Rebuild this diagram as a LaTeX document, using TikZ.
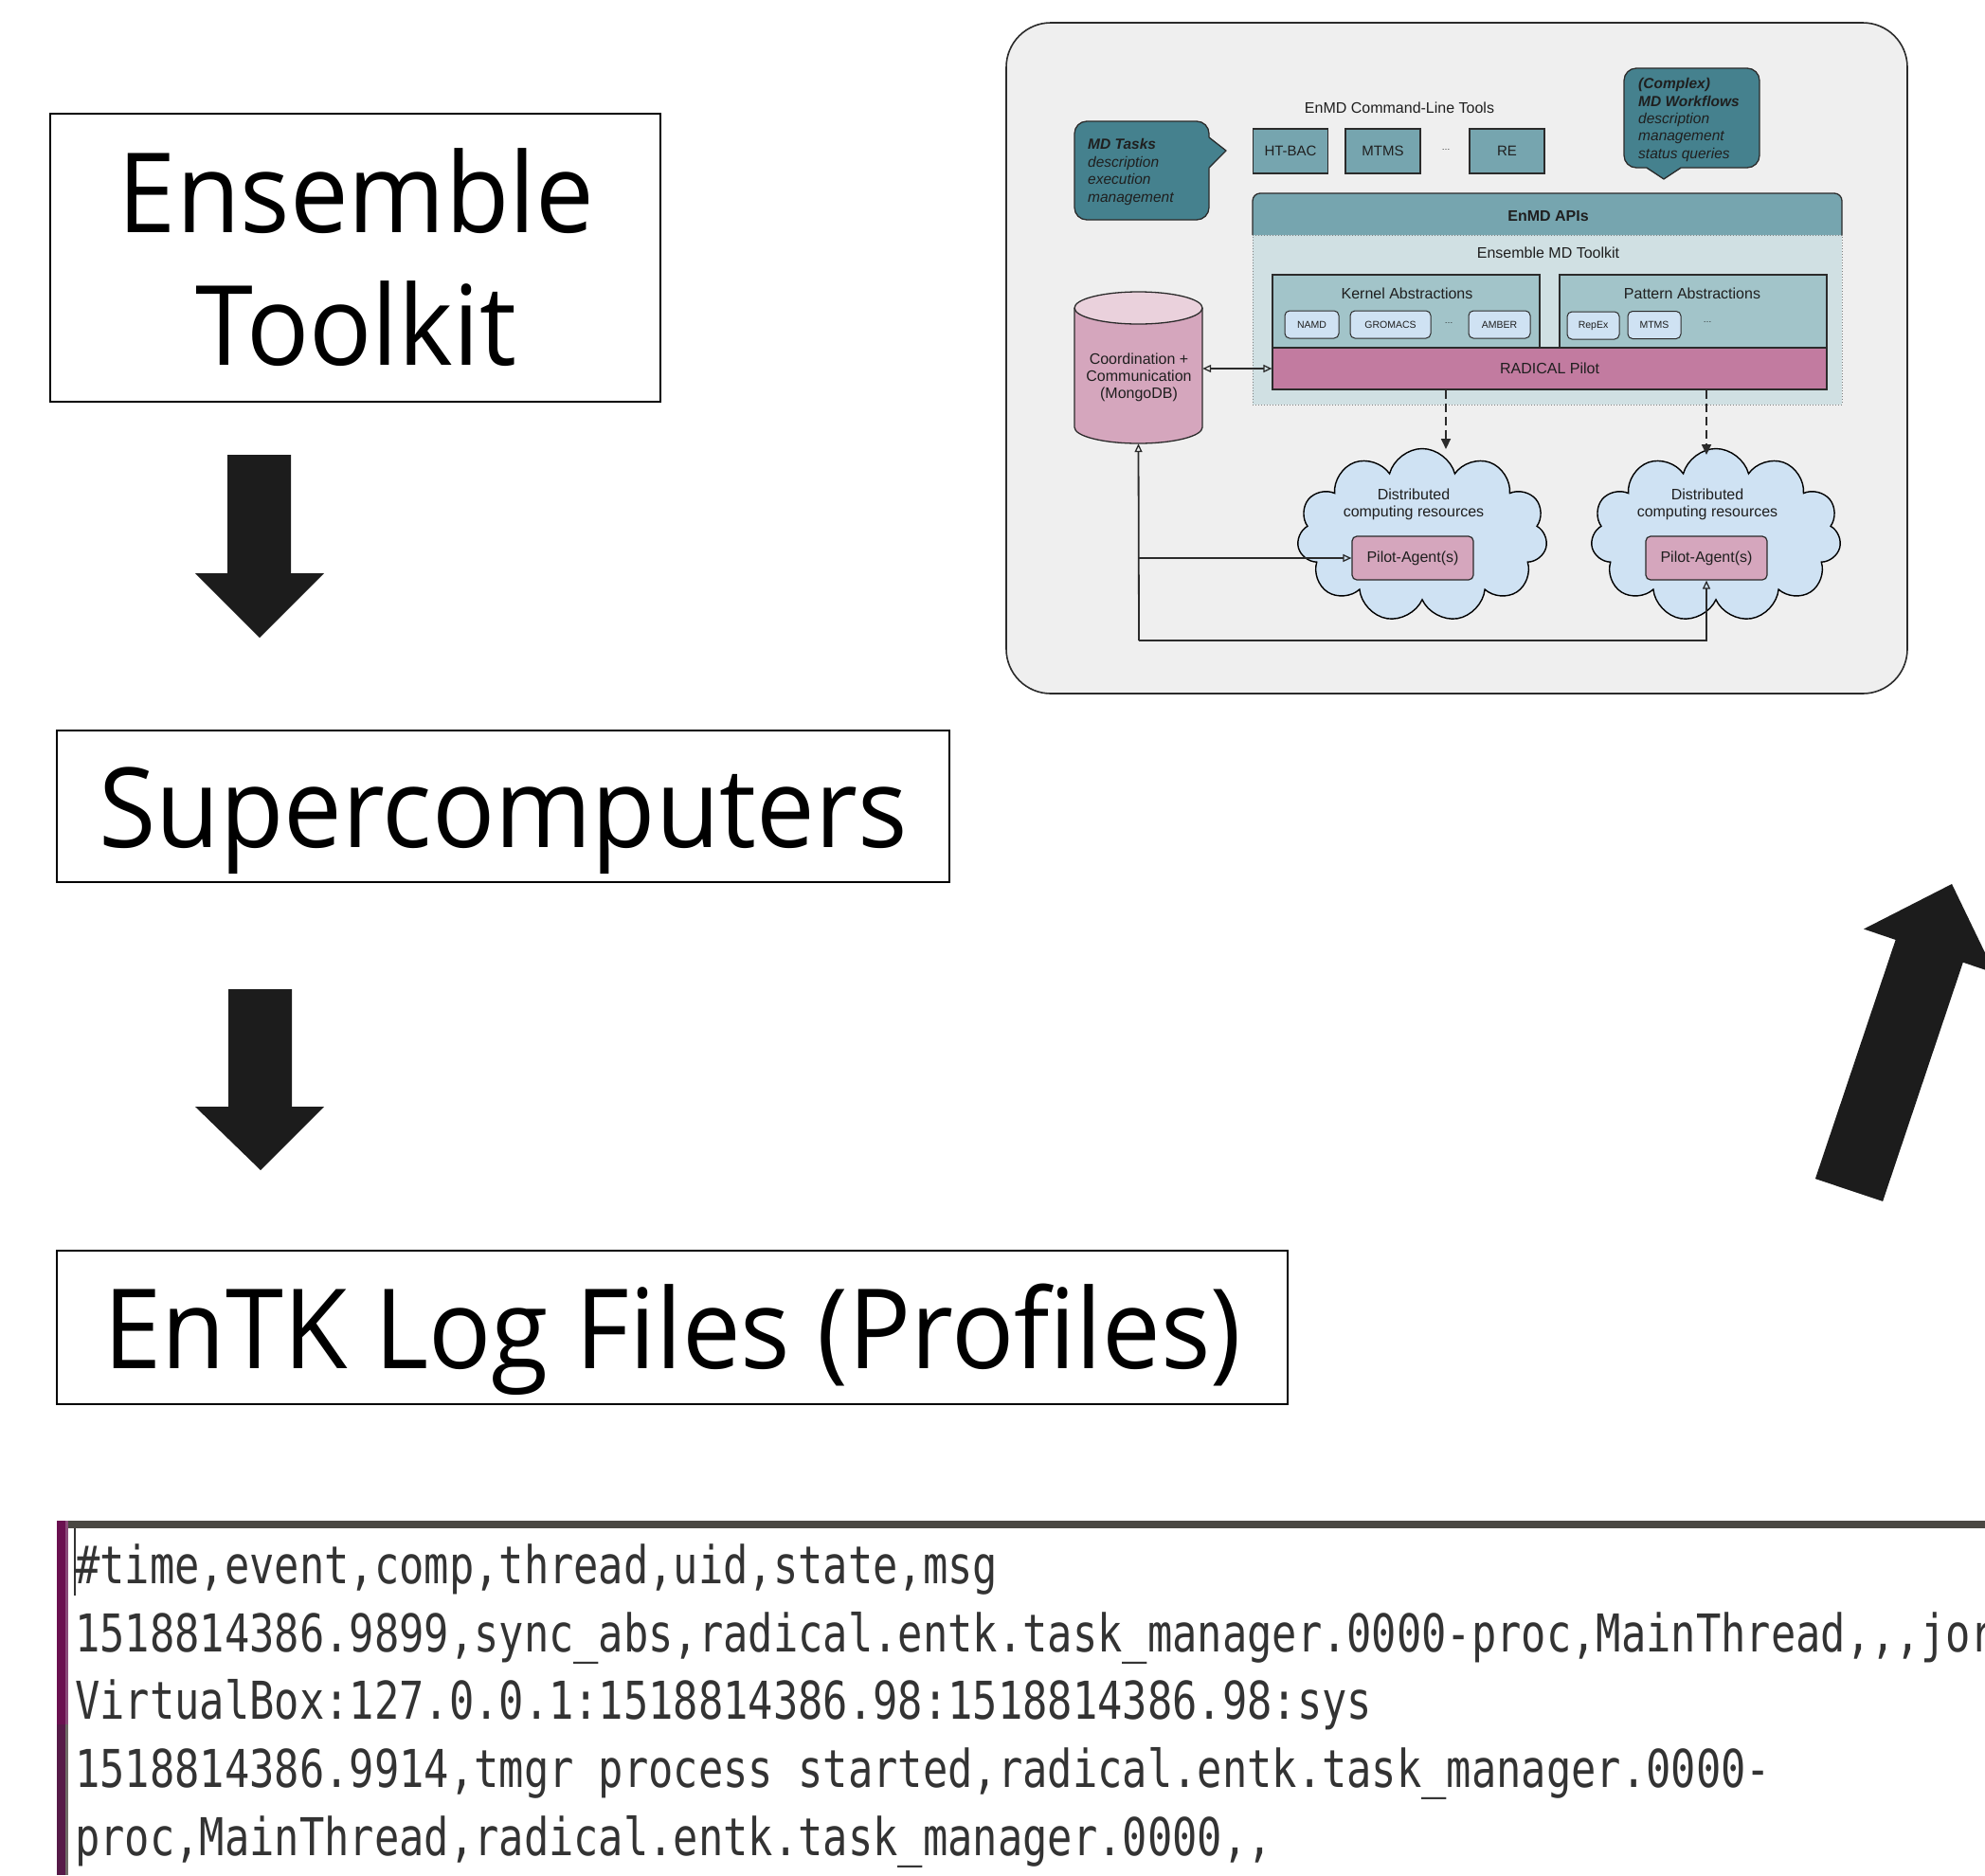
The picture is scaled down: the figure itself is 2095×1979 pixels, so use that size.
\documentclass[tikz,border=0pt]{standalone}
\usepackage{fontspec}
\newfontfamily\segfont{Open Sans}[FakeStretch=0.94]
\newfontfamily\arfont{Liberation Sans}
\newfontfamily\logfont{DejaVu Sans Mono}[FakeStretch=0.795]
\usetikzlibrary{shapes.symbols,arrows.meta}
\definecolor{arrowgray}{HTML}{1C1C1C}
\definecolor{panelbg}{HTML}{EFEFEF}
\definecolor{edge}{HTML}{2B2B2B}
\definecolor{dtext}{HTML}{1F1F1F}
\definecolor{cyanD}{HTML}{45818E}
\definecolor{cyanB}{HTML}{76A5AF}
\definecolor{cyanC}{HTML}{A2C4C9}
\definecolor{cyanL}{HTML}{D0E0E3}
\definecolor{blueL}{HTML}{CFE2F3}
\definecolor{magA}{HTML}{C27BA0}
\definecolor{magB}{HTML}{D5A6BD}
\definecolor{magC}{HTML}{EAD1DC}
\definecolor{logtext}{HTML}{333333}
\definecolor{ubbar}{HTML}{4A4843}
\definecolor{ubpurple}{HTML}{6A1050}
\definecolor{ubpurpleD}{HTML}{561A48}
\definecolor{ubpurpleL}{HTML}{8A4A7A}
\definecolor{ubgrayL}{HTML}{6E6A66}
\begin{document}
\begin{tikzpicture}[x=1pt,y=-1pt,
  bigbox/.style={draw=black,line width=2pt,inner sep=0pt},
  bigtext/.style={font=\segfont\fontsize{117}{140}\selectfont,anchor=base,inner sep=0pt},
  blockarrow/.style={fill=arrowgray},
  logline/.style={font=\logfont\fontsize{55}{72}\selectfont,anchor=base west,inner sep=0pt,text=logtext},
  dtxt/.style={font=\arfont\fontsize{16}{19}\selectfont,inner sep=0pt,text=dtext},
  btxt/.style={font=\arfont\fontsize{15.5}{19}\selectfont,inner sep=0pt,text=dtext,anchor=base west},
  toolbox/.style={draw=edge,line width=1.3pt,fill=cyanB,minimum width=79,minimum height=47,inner sep=0pt,font=\arfont\fontsize{15}{18}\selectfont,text=dtext},
  kbox/.style={draw=edge,line width=1.2pt,fill=cyanC,minimum width=282,minimum height=77,inner sep=0pt},
  minibox/.style={draw=edge,line width=1pt,fill=blueL,rounded corners=5,minimum height=29,inner sep=0pt,font=\arfont\fontsize{10.5}{12}\selectfont,text=dtext},
  dots/.style={font=\arfont\fontsize{9}{10}\selectfont,inner sep=0pt,text=dtext},
  bubble/.style={draw=edge,line width=1.3pt,fill=cyanD,rounded corners=13,inner sep=0pt},
  conn/.style={draw=edge,line width=1.8pt},
  openhead/.style={-{Triangle[open,length=9pt,width=8pt,line width=1.3pt]}},
  dasharr/.style={draw=edge,line width=1.8pt,dash pattern=on 9pt off 5pt,-{Triangle[length=11pt,width=10pt]}},
  agent/.style={draw=edge,line width=1.2pt,fill=magB,rounded corners=5,minimum width=128,minimum height=46,inner sep=0pt,font=\arfont\fontsize{16}{19}\selectfont,text=dtext},
  cloudbox/.style={cloud,cloud puffs=11,cloud ignores aspect,minimum width=264,minimum height=183,draw=black,line width=1.4pt,fill=blueL,inner sep=0pt}
]
\path[use as bounding box] (0,0) rectangle (2095,1979);
\clip (0,0) rectangle (2095,1979);
\fill[white] (0,0) rectangle (2095,1979);

% ---------- left flow ----------
\node[bigbox,minimum width=644,minimum height=304] (ens) at (375,272) {};
\node[bigtext] (ens1) at (376,245) {Ensemble};
\node[bigtext] (ens2) at (376,385) {Toolkit};
\fill[blockarrow] (240,480) -- (307,480) -- (307,605) -- (342,605) -- (274,673) -- (206,605) -- (240,605) -- cycle;

\node[bigbox,minimum width=942,minimum height=160] (sup) at (531,851) {};
\node[bigtext] (sup1) at (531,894) {Supercomputers};
\fill[blockarrow] (241,1044) -- (308,1044) -- (308,1168) -- (342,1168) -- (275,1235) -- (206,1168) -- (241,1168) -- cycle;

\node[bigbox,minimum width=1299,minimum height=162] (logs) at (709.5,1401) {};
\node[bigtext] (logs1) at (710,1444) {EnTK Log Files (Profiles)};

% big tilted arrow
\fill[blockarrow] (1915.9,1244.1) -- (1987.1,1267.9) -- (2071.8,1015.7) -- (2105.4,1027.1) -- (2060,933) -- (1967.0,980.5) -- (2000.6,991.9) -- cycle;

% ---------- log panel ----------
\fill[ubbar] (60,1605) rectangle (2095,1613);
\fill[ubpurple] (60,1605) rectangle (69,1820);
\fill[ubpurpleL] (69,1605) rectangle (72,1820);
\fill[ubpurpleD] (60,1820) rectangle (69,1979);
\fill[ubgrayL] (69,1820) rectangle (72,1979);
\draw[line width=1.5pt,draw=logtext] (79,1613) -- (79,1684);
\node[logline] (l1) at (79,1671) {\#time,event,comp,thread,uid,state,msg};
\node[logline] (l2) at (79,1743) {1518814386.9899,sync\_abs,radical.entk.task\_manager.0000-proc,MainThread,,,jor};
\node[logline] (l3) at (79,1814) {VirtualBox:127.0.0.1:1518814386.98:1518814386.98:sys};
\node[logline] (l4) at (79,1886) {1518814386.9914,tmgr process started,radical.entk.task\_manager.0000-};
\node[logline] (l5) at (79,1958) {proc,MainThread,radical.entk.task\_manager.0000,,};

% ---------- embedded architecture diagram ----------
\draw[draw=edge,line width=1.6pt,fill=panelbg,rounded corners=47] (1062,24) rectangle (2013,732);

\node[dtxt,anchor=base] (cltitle) at (1477,119) {EnMD Command-Line Tools};
\node[toolbox] (htbac) at (1362,159.5) {HT-BAC};
\node[toolbox] (mtms1) at (1459.5,159.5) {MTMS};
\node[dots] (tdots) at (1526,158) {\ldots};
\node[toolbox] (re) at (1590.5,159.5) {RE};

% MD Tasks bubble
\node[bubble,minimum width=142,minimum height=104] (mdtasks) at (1205,180) {};
\fill[cyanD] (1274,145) -- (1277,145) -- (1294,159) -- (1277,177) -- (1274,177) -- cycle;
\draw[draw=edge,line width=1.3pt,line join=round] (1276,145) -- (1294,159) -- (1276,177);
\node[btxt] (mt1) at (1148,157) {\bfseries\itshape MD Tasks};
\node[btxt] (mt2) at (1148,176) {\itshape description};
\node[btxt] (mt3) at (1148,194) {\itshape execution};
\node[btxt] (mt4) at (1148,213) {\itshape management};

% Complex MD Workflows bubble
\node[bubble,minimum width=143,minimum height=105] (cwf) at (1785.5,124.5) {};
\fill[cyanD] (1738,175) -- (1738,178) -- (1756,189) -- (1774,178) -- (1774,175) -- cycle;
\draw[draw=edge,line width=1.3pt,line join=round] (1738,177) -- (1756,189) -- (1774,177);
\node[btxt] (cw1) at (1729,93) {\bfseries\itshape (Complex)};
\node[btxt] (cw2) at (1729,112) {\bfseries\itshape MD Workflows};
\node[btxt] (cw3) at (1729,130) {\itshape description};
\node[btxt] (cw4) at (1729,148) {\itshape management};
\node[btxt] (cw5) at (1729,167) {\itshape status queries};

% EnMD APIs + toolkit
\node[draw=gray,dotted,line width=1pt,fill=cyanL,minimum width=622,minimum height=179,inner sep=0pt] (tk) at (1633,337.5) {};
\filldraw[fill=cyanB,draw=edge,line width=1.3pt,rounded corners=8] (1322,248) -- (1322,204) -- (1944,204) -- (1944,248);
\node[dtxt,anchor=base] (apis) at (1634,233) {\bfseries EnMD APIs};
\node[dtxt,anchor=base] (tkl) at (1634,272) {Ensemble MD Toolkit};

\node[kbox] (kern) at (1484,328.5) {};
\node[kbox] (patt) at (1787,328.5) {};
\node[dtxt,anchor=base] (kernl) at (1485,315) {Kernel Abstractions};
\node[dtxt,anchor=base] (pattl) at (1786,315) {Pattern Abstractions};
\node[minibox,minimum width=57] (namd) at (1384.5,342.5) {NAMD};
\node[minibox,minimum width=85] (gromacs) at (1467.5,342.5) {GROMACS};
\node[dots] (kdots) at (1529,341) {\ldots};
\node[minibox,minimum width=65] (amber) at (1582.5,342.5) {AMBER};
\node[minibox,minimum width=55] (repex) at (1681.5,343.5) {RepEx};
\node[minibox,minimum width=56] (mtms2) at (1746,343) {MTMS};
\node[dots] (pdots) at (1802,340) {\ldots};

\node[draw=edge,line width=1.2pt,fill=magA,minimum width=585,minimum height=44,inner sep=0pt,font=\arfont\fontsize{16}{19}\selectfont,text=dtext] (radical) at (1635.5,389) {RADICAL Pilot};

% MongoDB cylinder
\node[inner sep=0pt,minimum width=135,minimum height=160] (db) at (1201.5,388) {};
\fill[magB] (1134,325) -- (1134,451) arc[start angle=180,end angle=0,x radius=67.5,y radius=17] -- (1269,325) -- cycle;
\draw[draw=edge,line width=1.3pt] (1134,325) -- (1134,451) arc[start angle=180,end angle=0,x radius=67.5,y radius=17] -- (1269,325);
\filldraw[fill=magC,draw=edge,line width=1.3pt] (1201.5,325) ellipse[x radius=67.5,y radius=17];
\node[dtxt,anchor=base] (db1) at (1202,384) {Coordination +};
\node[dtxt,anchor=base] (db2) at (1202,402) {Communication};
\node[dtxt,anchor=base] (db3) at (1202,420) {(MongoDB)};

% clouds
\node[cloudbox] (cl1) at (1501,565) {};
\node[cloudbox] (cl2) at (1811,565) {};
\node[dtxt,anchor=base] (c1a) at (1492,527) {Distributed};
\node[dtxt,anchor=base] (c1b) at (1492,545) {computing resources};
\node[dtxt,anchor=base] (c2a) at (1802,527) {Distributed};
\node[dtxt,anchor=base] (c2b) at (1802,545) {computing resources};
\node[agent] (pa1) at (1491,589) {Pilot-Agent(s)};
\node[agent] (pa2) at (1801,589) {Pilot-Agent(s)};

% connectors
\draw[conn,{Triangle[open,length=9pt,width=8pt,line width=1.3pt]}-{Triangle[open,length=9pt,width=8pt,line width=1.3pt]}] (db.east |- radical.west) -- (radical.west);
\coordinate (de1) at (1526,474);
\coordinate (de2) at (1801,480);
\draw[dasharr] (radical.south -| de1) -- (de1);
\draw[dasharr] (radical.south -| de2) -- (de2);
\coordinate (jn) at (1202,676);
\draw[conn,openhead] (jn) -- (db.south);
\draw[conn,openhead] (db.south |- pa1.west) -- (pa1.west);
\draw[conn,openhead] (jn) -| (pa2.south);
\end{tikzpicture}
\end{document}
